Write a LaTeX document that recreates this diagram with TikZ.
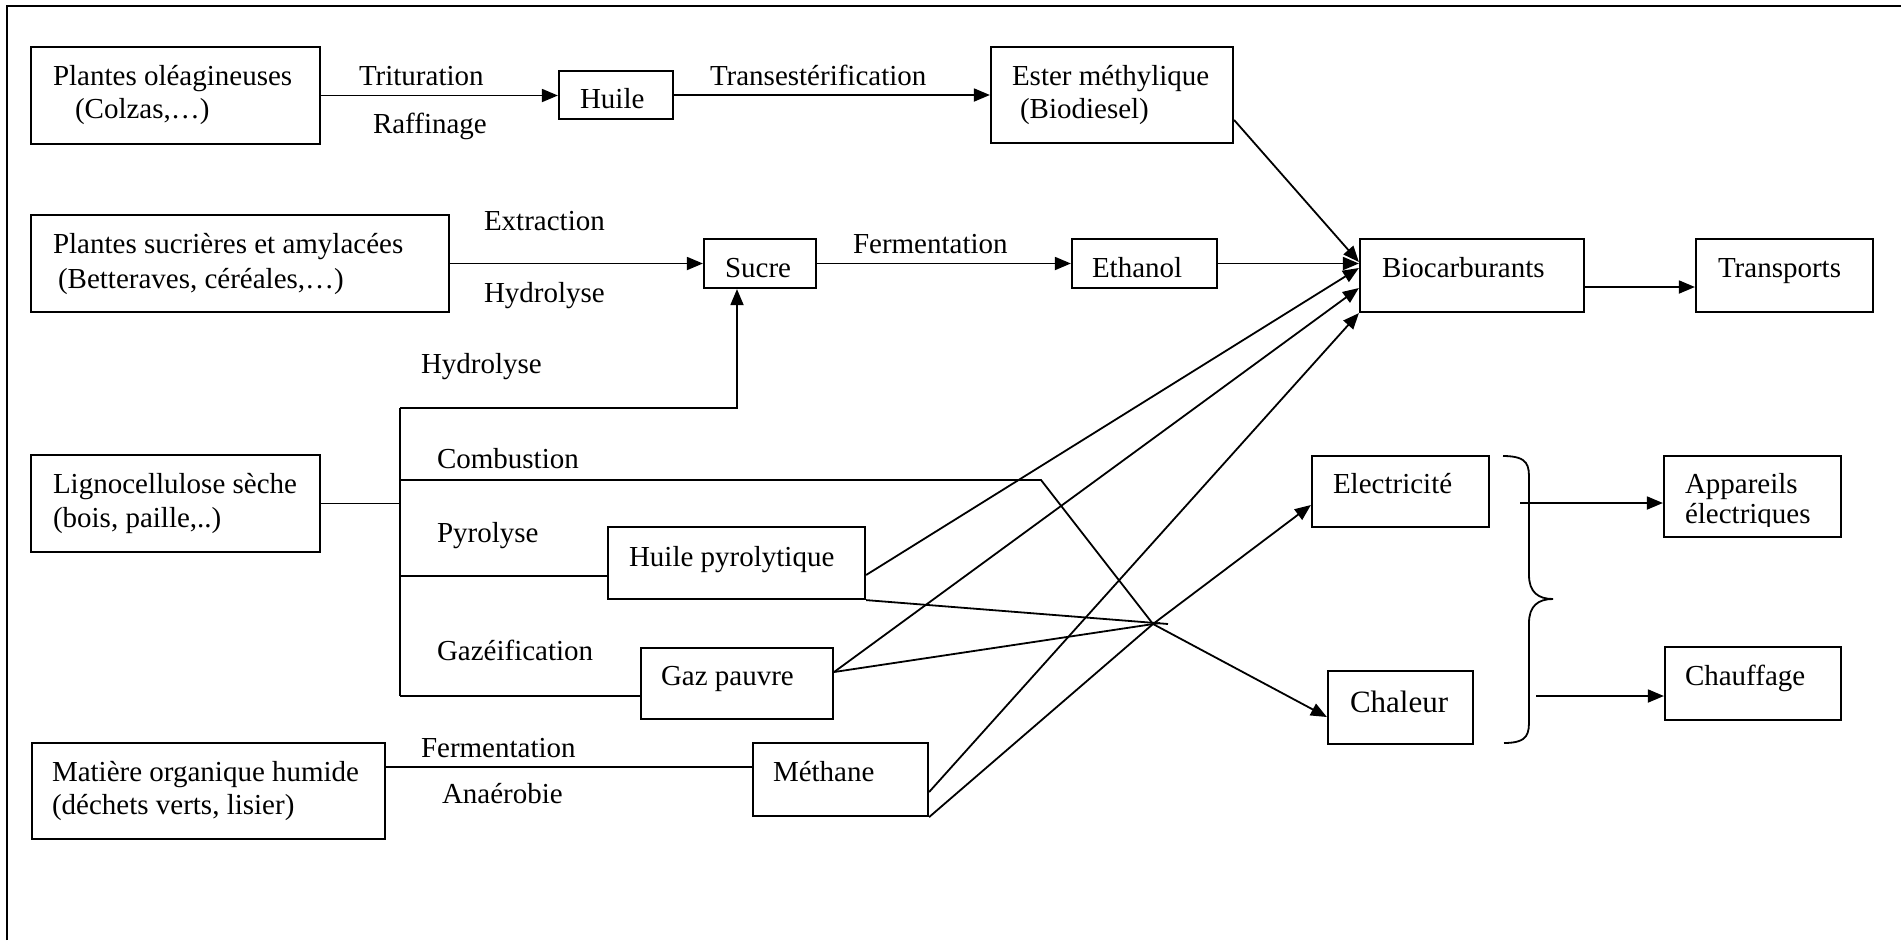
\documentclass[tikz,border=0pt]{standalone}
\usepackage{fontspec}
\setmainfont{Liberation Serif}
\usetikzlibrary{arrows.meta}

\tikzset{
  box/.style={draw, line width=2.2pt, inner sep=0pt, rectangle},
  lbl/.style={anchor=base west, inner sep=0pt, outer sep=0pt},
  link/.style={line width=1.8pt},
  arr/.style={line width=1.8pt, -{Triangle[length=16pt,width=13pt]}},
}

\begin{document}
\begin{tikzpicture}[x=1pt, y=-1pt, font=\fontsize{29}{34}\selectfont]
\useasboundingbox (0,0) rectangle (1901,940);

% frame (top and left edges)
\draw[line width=2pt] (7,940) -- (7,6) -- (1901,6);

% boxes
\node[box, minimum width=289pt, minimum height=97pt] (ole) at (175.5,95.5) {};
\node[box, minimum width=114pt, minimum height=48pt] (huile) at (616,95) {};
\node[box, minimum width=242pt, minimum height=96pt] (ester) at (1112,95) {};
\node[box, minimum width=418pt, minimum height=97pt] (sucr) at (240,263.5) {};
\node[box, minimum width=112pt, minimum height=49pt] (sucre) at (760,263.5) {};
\node[box, minimum width=145pt, minimum height=49pt] (ethanol) at (1144.5,263.5) {};
\node[box, minimum width=224pt, minimum height=73pt] (bio) at (1472,275.5) {};
\node[box, minimum width=177pt, minimum height=73pt] (transp) at (1784.5,275.5) {};
\node[box, minimum width=289pt, minimum height=97pt] (ligno) at (175.5,503.5) {};
\node[box, minimum width=257pt, minimum height=72pt] (pyro) at (736.5,563) {};
\node[box, minimum width=192pt, minimum height=71pt] (gaz) at (737,683.5) {};
\node[box, minimum width=353pt, minimum height=96pt] (matiere) at (208.5,791) {};
\node[box, minimum width=175pt, minimum height=73pt] (methane) at (840.5,779.5) {};
\node[box, minimum width=177pt, minimum height=71pt] (elec) at (1400.5,491.5) {};
\node[box, minimum width=145pt, minimum height=73pt] (chaleur) at (1400.5,707.5) {};
\node[box, minimum width=177pt, minimum height=81pt] (appareils) at (1752.5,496.5) {};
\node[box, minimum width=176pt, minimum height=73pt] (chauffage) at (1753,683.5) {};

% box texts
\node[lbl] (tole1) at (53,85) {Plantes oléagineuses};
\node[lbl] (tole2) at (75,118) {(Colzas,…)};
\node[lbl] (thuile) at (580,108) {Huile};
\node[lbl] (tester1) at (1012,85) {Ester méthylique};
\node[lbl] (tester2) at (1020,118) {(Biodiesel)};
\node[lbl] (tsucr1) at (53,253) {Plantes sucrières et amylacées};
\node[lbl] (tsucr2) at (58,288) {(Betteraves, céréales,…)};
\node[lbl] (tsucre) at (725,277) {Sucre};
\node[lbl] (tethanol) at (1092,277) {Ethanol};
\node[lbl] (tbio) at (1382,277) {Biocarburants};
\node[lbl] (ttransp) at (1718,277) {Transports};
\node[lbl] (tligno1) at (53,493) {Lignocellulose sèche};
\node[lbl] (tligno2) at (53,527) {(bois, paille,..)};
\node[lbl] (tpyro) at (629,566) {Huile pyrolytique};
\node[lbl] (tgaz) at (661,685) {Gaz pauvre};
\node[lbl] (tmat1) at (52,781) {Matière organique humide};
\node[lbl] (tmat2) at (52,814) {(déchets verts, lisier)};
\node[lbl] (tmeth) at (773,781) {Méthane};
\node[lbl] (telec) at (1333,493) {Electricité};
\node[lbl, font=\fontsize{31}{36}\selectfont] (tchal) at (1350,712) {Chaleur};
\node[lbl] (tapp1) at (1685,493) {Appareils};
\begin{scope}
  \clip (1660,500) rectangle (1845,526);
  \node[lbl] (tapp2) at (1685,523) {électriques};
\end{scope}
\node[lbl] (tchauf) at (1685,685) {Chauffage};

% process labels
\node[lbl] (ltrit) at (359,85) {Trituration};
\node[lbl] (lraff) at (373,133) {Raffinage};
\node[lbl] (ltrans) at (710,85) {Transestérification};
\node[lbl] (lextr) at (484,230) {Extraction};
\node[lbl] (lhyd1) at (484,302) {Hydrolyse};
\node[lbl] (lferm1) at (853,253) {Fermentation};
\node[lbl] (lhyd2) at (421,373) {Hydrolyse};
\node[lbl] (lcomb) at (437,468) {Combustion};
\node[lbl] (lpyr) at (437,542) {Pyrolyse};
\node[lbl] (lgaz) at (437,660) {Gazéification};
\node[lbl] (lferm2) at (421,757) {Fermentation};
\node[lbl] (lana) at (442,803) {Anaérobie};

% junction points
\coordinate (jtop) at (400,408);
\coordinate (sc) at (737,408);
\coordinate (cb1) at (400,480);
\coordinate (cb2) at (1041,480);
\coordinate (py) at (400,576);
\coordinate (gz) at (400,696);
\coordinate (hub) at (1153,624);
\coordinate (pe) at (1168,624);
\coordinate (ge) at (1160,623);
\coordinate (mo) at ([yshift=24pt]matiere.east);
\coordinate (ba) at (1520,503);
\coordinate (bc) at (1536,696);

% oil and sugar lines
\draw[arr] (ole.east) -- (ole.east -| huile.west);
\draw[arr] (huile.east) -- (huile.east -| ester.west);
\draw[arr] (sucr.east) -- (sucr.east -| sucre.west);
\draw[arr] (sucre.east) -- (sucre.east -| ethanol.west);
\draw[arr] (ethanol.east) -- (ethanol.east -| bio.west);
\draw[arr] ([yshift=-25pt]ester.east) -- ([yshift=13.5pt]bio.west);
\draw[arr] ([yshift=-11.5pt]bio.east) -- ([yshift=-11.5pt]transp.west);

% lignocellulose branches
\draw[link] (ligno.east) -- (ligno.east -| jtop);
\draw[link] (jtop) -- (gz);
\draw[arr] (jtop) -- (sc) -- (sc |- sucre.south);
\draw[link] (py) -- (py -| pyro.west);
\draw[link] (gz) -- (gz -| gaz.west);
\draw[arr] (cb1) -- (cb2) -- (hub) -- ([yshift=-9.5pt]chaleur.west);

% products towards biofuels, electricity and heat
\draw[arr] ([yshift=-12pt]pyro.east) -- ([yshift=7.5pt]bio.west);
\draw[arr] ([yshift=11.5pt]gaz.east) -- ([yshift=-12.5pt]bio.west);
\draw[arr] ([yshift=-12.5pt]methane.east) -- (bio.south west);
\draw[link] (pyro.south east) -- (pe);
\draw[link] ([yshift=11.5pt]gaz.east) -- (ge);
\draw[arr] (methane.south east) -- (hub) -- ([yshift=-13.5pt]elec.west);

% wet organic matter
\draw[link] (mo) -- (mo -| methane.west);

% brace and end uses
\coordinate (br1) at (1503,456);
\coordinate (br2) at (1553,599);
\coordinate (br3) at (1504,743);
\draw[link] (br1) .. controls (1529,456) and (1529,466) .. (1529,480)
  -- (1529,575) .. controls (1529,592) and (1538,599) .. (br2)
  .. controls (1538,599) and (1529,606) .. (1529,623)
  -- (1529,719) .. controls (1529,733) and (1529,743) .. (br3);
\draw[arr] (ba) -- (ba -| appareils.west);
\draw[arr] (bc) -- (bc -| chauffage.west);

\end{tikzpicture}
\end{document}
